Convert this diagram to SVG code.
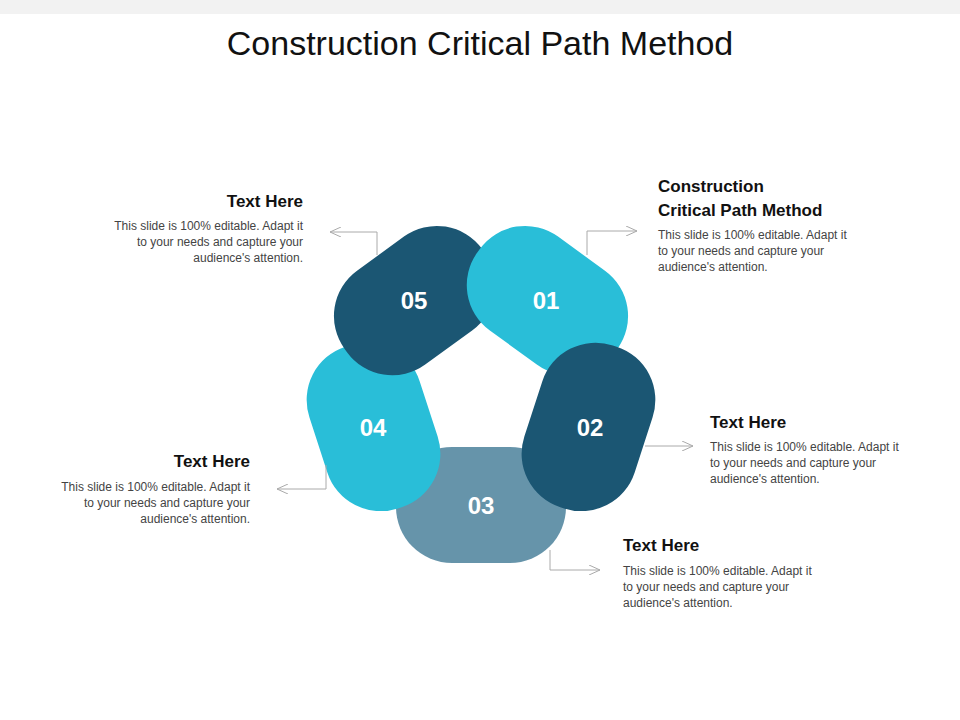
<svg xmlns="http://www.w3.org/2000/svg" width="960" height="720" viewBox="0 0 960 720">
<style>
.t{font-family:"Liberation Sans",Arial,sans-serif}
.h{font-size:17px;font-weight:bold;fill:#111}
.b{font-size:12px;fill:#444}
.n{font-size:24px;font-weight:bold;fill:#fff}
.c{fill:none;stroke:#aaa;stroke-width:1}
</style>
<defs>
<marker id="a" markerWidth="12" markerHeight="10" refX="11" refY="5" orient="auto" markerUnits="userSpaceOnUse"><path d="M0,0 L11,5 L0,10" fill="none" stroke="#aaa"/></marker>
</defs>
<rect width="960" height="14" fill="#f2f2f2"/>
<text class="t" x="480" y="55" font-size="34" text-anchor="middle" fill="#111">Construction Critical Path Method</text>
<g id="n03"><rect x="396" y="447" width="170" height="116" rx="56" fill="#6694aa" transform="rotate(0 481 392)"/></g>
<g id="n04"><rect x="396" y="447" width="170" height="116" rx="56" fill="#29bed8" transform="rotate(72 481 392)"/></g>
<g id="n05"><rect x="396" y="447" width="170" height="116" rx="56" fill="#1b5673" transform="rotate(144 481 392)"/></g>
<g id="n01"><rect x="396" y="447" width="170" height="116" rx="56" fill="#29bed8" transform="rotate(216 481 392)"/></g>
<g id="n02"><rect x="396" y="447" width="170" height="116" rx="56" fill="#1b5673" transform="rotate(288 481 392)"/></g>
<g class="t n" text-anchor="middle">
<text x="481" y="514">03</text><text x="373" y="436">04</text><text x="414" y="309">05</text><text x="546" y="309">01</text><text x="590" y="436">02</text>
</g>
<g id="connectors">
<path class="c" d="M377,255 V232 H330" marker-end="url(#a)"/>
<path class="c" d="M587,255 V231 H637" marker-end="url(#a)"/>
<path class="c" d="M645,446 H693" marker-end="url(#a)"/>
<path class="c" d="M550,550 V570 H600" marker-end="url(#a)"/>
<path class="c" d="M326,465 V489 H277" marker-end="url(#a)"/>
</g>
<g id="l05" class="t" text-anchor="end"><text class="h" x="303" y="207">Text Here</text>
<text class="b" x="303" y="230">This slide is 100% editable. Adapt it</text><text class="b" x="303" y="246">to your needs and capture your</text><text class="b" x="303" y="262">audience's attention.</text></g>
<g id="l01" class="t"><text class="h" x="658" y="192">Construction</text><text class="h" x="658" y="216">Critical Path Method</text>
<text class="b" x="658" y="239">This slide is 100% editable. Adapt it</text><text class="b" x="658" y="255">to your needs and capture your</text><text class="b" x="658" y="271">audience's attention.</text></g>
<g id="l02" class="t"><text class="h" x="710" y="428">Text Here</text>
<text class="b" x="710" y="451">This slide is 100% editable. Adapt it</text><text class="b" x="710" y="467">to your needs and capture your</text><text class="b" x="710" y="483">audience's attention.</text></g>
<g id="l03" class="t"><text class="h" x="623" y="551">Text Here</text>
<text class="b" x="623" y="575">This slide is 100% editable. Adapt it</text><text class="b" x="623" y="591">to your needs and capture your</text><text class="b" x="623" y="607">audience's attention.</text></g>
<g id="l04" class="t" text-anchor="end"><text class="h" x="250" y="467">Text Here</text>
<text class="b" x="250" y="491">This slide is 100% editable. Adapt it</text><text class="b" x="250" y="507">to your needs and capture your</text><text class="b" x="250" y="523">audience's attention.</text></g>
</svg>
